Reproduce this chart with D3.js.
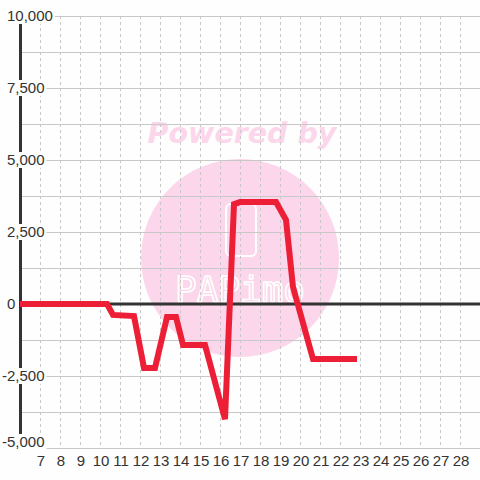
<!DOCTYPE html>
<html>
<head>
<meta charset="utf-8">
<script src="https://cdn.jsdelivr.net/npm/d3@7"></script>
<style>
  html, body { margin: 0; padding: 0; background: #fdfefd; }
  svg { display: block; }
</style>
</head>
<body>
<div id="chart"></div>
<script>
// ---- data ----
const xValues = [6, 10.35, 10.65, 11.7, 12.2, 12.75, 13.35, 13.8, 14.15, 15.25, 16.25, 16.7, 17.0, 18.8, 19.3, 19.65, 20.65, 22.85];
const yValues = [0, 0, -380, -420, -2220, -2220, -450, -450, -1420, -1420, -4000, 3470, 3540, 3540, 2920, 590, -1910, -1910];
const xTicks = [7, 8, 9, 10, 11, 12, 13, 14, 15, 16, 17, 18, 19, 20, 21, 22, 23, 24, 25, 26, 27, 28];
const yTicks = [10000, 7500, 5000, 2500, 0, -2500, -5000];
const yGrid = [-5000, -3750, -2500, -1250, 0, 1250, 2500, 3750, 5000, 6250, 7500, 8750, 10000];

const W = 480, H = 480;
const bg = "#fdfefd";
const svg = d3.select("#chart").append("svg").attr("width", W).attr("height", H);
svg.append("rect").attr("width", W).attr("height", H).attr("fill", bg);

const x = d3.scaleLinear().domain([6, 29]).range([20, 480]);
const y = d3.scaleLinear().domain([-5000, 10000]).range([448, 16]);

// ---- watermark ----
const wm = svg.append("g");
wm.append("circle").attr("cx", 240).attr("cy", 258).attr("r", 99).attr("fill", "#fcd6ea");
wm.append("text").attr("x", 242).attr("y", 143).attr("text-anchor", "middle")
  .attr("font-family", "DejaVu Sans").attr("font-weight", "bold").attr("font-style", "italic")
  .attr("font-size", 28.5).attr("fill", "#fcd6ea").text("Powered by");
wm.append("rect").attr("x", 226).attr("y", 204).attr("width", 30).attr("height", 52).attr("rx", 5)
  .attr("fill", "none").attr("stroke", "#ffffff").attr("stroke-width", 2);
wm.append("text").attr("x", 240).attr("y", 302).attr("text-anchor", "middle")
  .attr("font-family", "DejaVu Sans Mono").attr("font-size", 36).attr("font-weight", 300)
  .attr("fill", "none").attr("stroke", "#ffffff").attr("stroke-width", 1.6).text("PAPimo");

// ---- grid ----
svg.append("g").selectAll("line").data(yGrid).join("line")
  .attr("x1", 20).attr("x2", 480)
  .attr("y1", d => Math.round(y(d)) + 0.5).attr("y2", d => Math.round(y(d)) + 0.5)
  .attr("stroke", "#c8c8c8").attr("stroke-width", 1);
svg.append("g").selectAll("line").data(xTicks).join("line")
  .attr("x1", d => Math.round(x(d)) + 0.5).attr("x2", d => Math.round(x(d)) + 0.5)
  .attr("y1", y(10000)).attr("y2", y(-5000))
  .attr("stroke", "#c8c8c8").attr("stroke-width", 1).attr("stroke-dasharray", "3,3");

// ---- zero line and axis ----
svg.append("line").attr("x1", 20).attr("x2", 480).attr("y1", y(0)).attr("y2", y(0))
  .attr("stroke", "#333333").attr("stroke-width", 3);
svg.append("line").attr("x1", 20.5).attr("x2", 20.5).attr("y1", y(10000)).attr("y2", y(-5000))
  .attr("stroke", "#333333").attr("stroke-width", 3);

// ---- series ----
const pts = xValues.map((v, i) => [v, yValues[i]]);
svg.append("path").datum(pts)
  .attr("d", d3.line().x(d => x(d[0])).y(d => y(d[1])))
  .attr("fill", "none").attr("stroke", "#ed1f37").attr("stroke-width", 6)
  .attr("stroke-linejoin", "miter").attr("stroke-miterlimit", 2);

// ---- y labels with background ----
const fmt = d3.format(",");
const yl = svg.append("g");
yTicks.forEach(t => {
  let cy = y(t);
  if (t === -5000) cy -= 6;
  const g = yl.append("g");
  const txt = g.append("text").attr("x", t < 0 ? 2 : 7).attr("y", cy).attr("dy", "0.35em")
    .attr("font-family", "Liberation Sans, Arial, sans-serif").attr("font-size", 15)
    .attr("fill", "#333333").text(fmt(t).replace("−", "-"));
  const bb = txt.node().getBBox();
  g.insert("rect", "text").attr("x", bb.x - 1).attr("y", cy - 8).attr("width", bb.width + 3).attr("height", 16)
    .attr("fill", bg);
});

// ---- x labels ----
svg.append("g").selectAll("text").data(xTicks).join("text")
  .attr("x", d => x(d) + 1).attr("y", 466).attr("text-anchor", "middle")
  .attr("font-family", "Liberation Sans, Arial, sans-serif").attr("font-size", 15)
  .attr("fill", "#333333").text(d => d);
</script>
</body>
</html>
